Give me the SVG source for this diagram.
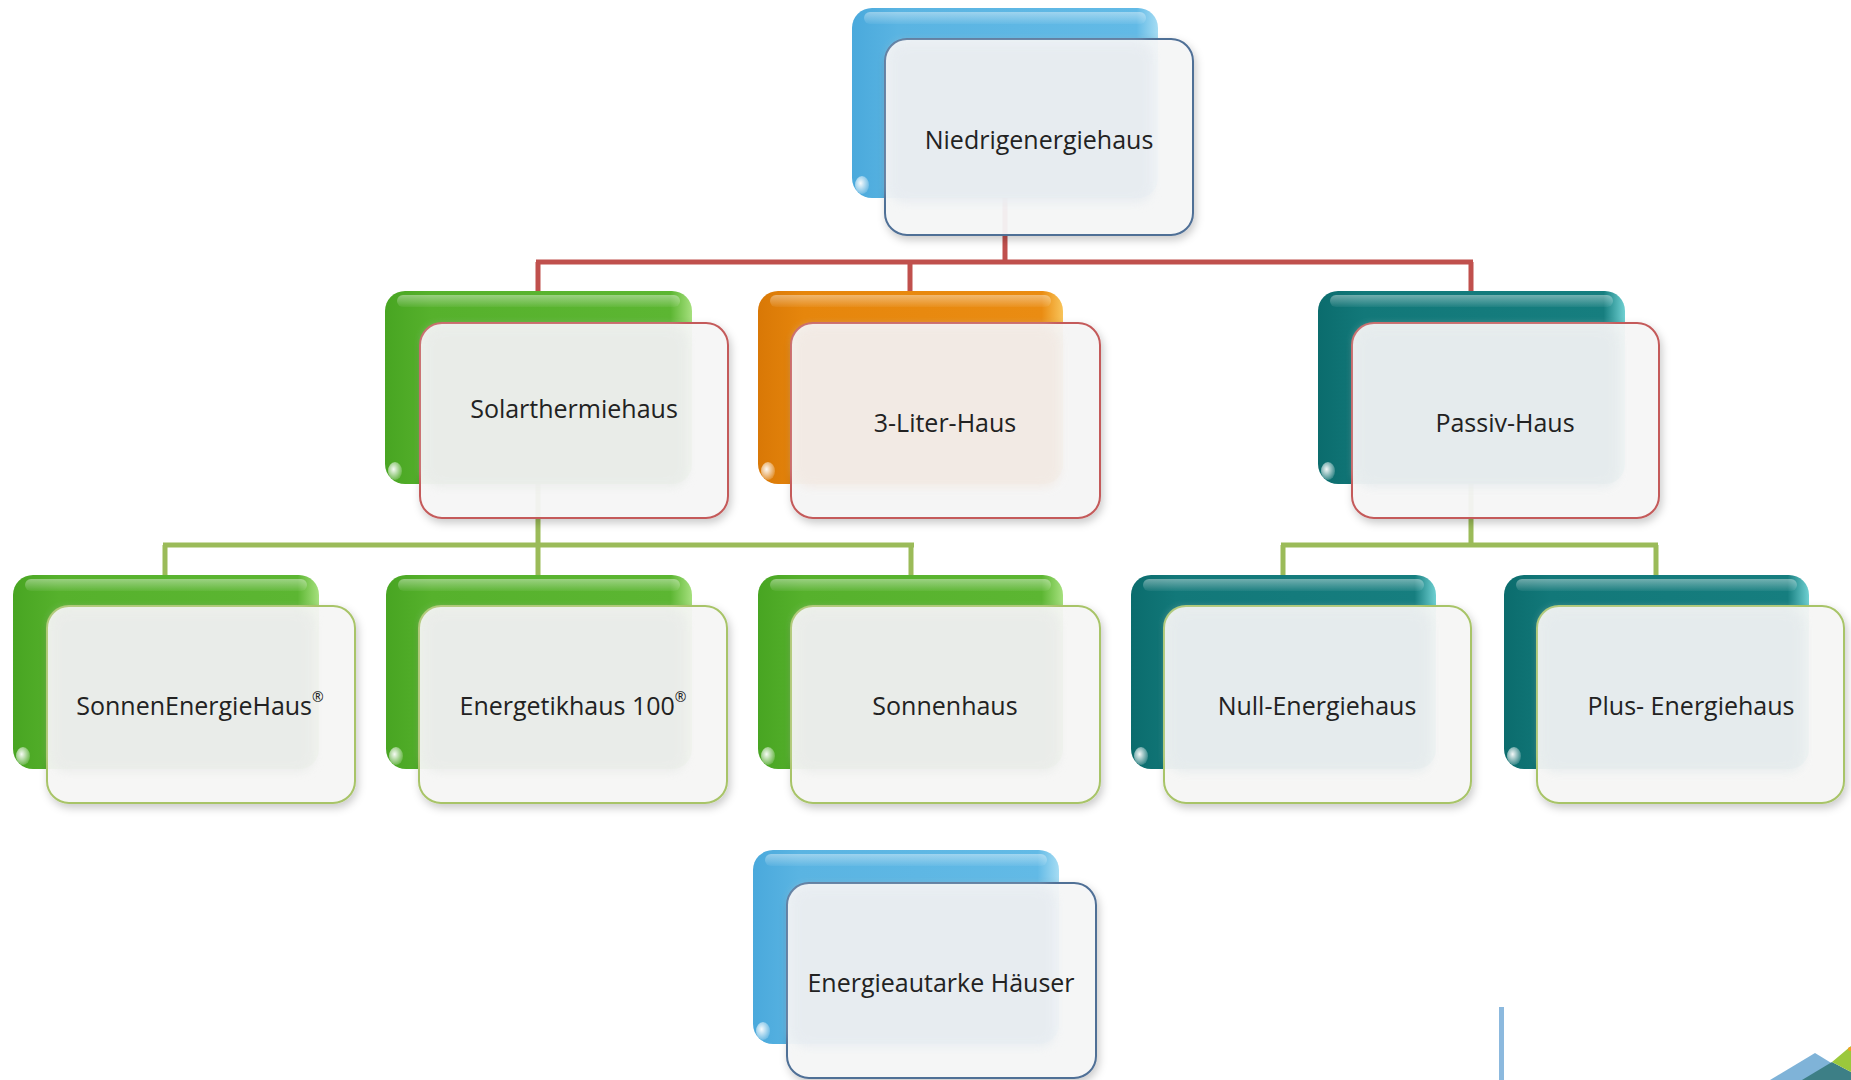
<svg xmlns="http://www.w3.org/2000/svg" width="1851" height="1080" viewBox="0 0 1851 1080">
<defs>
<linearGradient id="gBlue" x1="0" y1="0" x2="1" y2="0"><stop offset="0" stop-color="#4aa9dc"/><stop offset="0.15" stop-color="#5ab4e2"/><stop offset="0.93" stop-color="#62bae6"/><stop offset="1" stop-color="#a6dcf3"/></linearGradient>
<linearGradient id="gGreen" x1="0" y1="0" x2="1" y2="0"><stop offset="0" stop-color="#48a522"/><stop offset="0.15" stop-color="#56b12c"/><stop offset="0.93" stop-color="#5cb632"/><stop offset="1" stop-color="#a6e07e"/></linearGradient>
<linearGradient id="gOrange" x1="0" y1="0" x2="1" y2="0"><stop offset="0" stop-color="#d97806"/><stop offset="0.15" stop-color="#e6860c"/><stop offset="0.93" stop-color="#ea8c12"/><stop offset="1" stop-color="#f8c45a"/></linearGradient>
<linearGradient id="gTeal" x1="0" y1="0" x2="1" y2="0"><stop offset="0" stop-color="#0b6c6d"/><stop offset="0.15" stop-color="#127879"/><stop offset="0.93" stop-color="#167e7f"/><stop offset="1" stop-color="#6fd0d2"/></linearGradient>
<linearGradient id="gHi" x1="0" y1="0" x2="0" y2="1"><stop offset="0" stop-color="#ffffff" stop-opacity="0.4"/><stop offset="1" stop-color="#ffffff" stop-opacity="0.05"/></linearGradient>
<radialGradient id="gDot" cx="0.4" cy="0.4" r="0.6"><stop offset="0" stop-color="#ffffff" stop-opacity="0.95"/><stop offset="1" stop-color="#ffffff" stop-opacity="0.2"/></radialGradient>
<filter id="sh" x="-10%" y="-10%" width="125%" height="130%"><feDropShadow dx="2" dy="4" stdDeviation="4" flood-color="#000" flood-opacity="0.22"/></filter>
<filter id="bl" x="-10%" y="-10%" width="120%" height="120%"><feGaussianBlur stdDeviation="5"/></filter>
</defs>
<style>
.back{stroke:none}
.hi{fill:url(#gHi)}
.dot{fill:url(#gDot)}
.front{stroke-width:2;filter:url(#sh)}
.fb{fill:#f5f7f8;stroke:#4f6f96}
.fr{fill:#f6f6f6;stroke:#c45a5a}
.fg{fill:#f6f7f5;stroke:#a8c468}
.in{filter:url(#bl)}
.lbl{font-family:"Open Sans","Noto Sans","DejaVu Sans",sans-serif;font-size:25px;fill:#222;text-anchor:middle;dominant-baseline:central}
.red{stroke:#c0504d;stroke-width:5;fill:none}
.grn{stroke:#9bbb59;stroke-width:5;fill:none}
</style>

<g id="connectors">
<path class="red" d="M1005 198 V262 M536 262 H1473 M538 262 V292 M910 262 V292 M1471 262 V292"/>
<path class="grn" d="M538 484 V545 M163 545 H914 M165 545 V576 M538 545 V576 M911 545 V576 M1471 484 V545 M1281 545 H1658 M1283 545 V576 M1656 545 V576"/>
</g>

<g id="n-niedrig">
<rect class="back" x="852" y="8" width="306" height="190" rx="20" fill="url(#gBlue)"/>
<rect class="hi" x="864" y="12" width="282" height="12" rx="6"/>
<ellipse class="dot" cx="862" cy="185" rx="7" ry="9"/>
<rect class="front fb" x="885" y="39" width="308" height="196" rx="22" fill-opacity="0.94"/>
<rect class="in" x="889" y="43" width="264" height="160" rx="16" fill="#e6ebf0" opacity="0.8"/>
<text class="lbl" x="1039" y="139">Niedrigenergiehaus</text>
</g>

<g id="n-solar">
<rect class="back" x="385" y="291" width="307" height="193" rx="20" fill="url(#gGreen)"/>
<rect class="hi" x="397" y="295" width="283" height="12" rx="6"/>
<ellipse class="dot" cx="395" cy="471" rx="7" ry="9"/>
<rect class="front fr" x="420" y="323" width="308" height="195" rx="22" fill-opacity="0.94"/>
<rect class="in" x="424" y="327" width="264" height="160" rx="16" fill="#e8ebe8" opacity="0.8"/>
<text class="lbl" x="574" y="408">Solarthermiehaus</text>
</g>

<g id="n-3liter">
<rect class="back" x="758" y="291" width="305" height="193" rx="20" fill="url(#gOrange)"/>
<rect class="hi" x="770" y="295" width="281" height="12" rx="6"/>
<ellipse class="dot" cx="768" cy="471" rx="7" ry="9"/>
<rect class="front fr" x="791" y="323" width="309" height="195" rx="22" fill="#f8f4f2" fill-opacity="0.95"/>
<rect class="in" x="795" y="327" width="265" height="160" rx="16" fill="#f2e9e3" opacity="0.85"/>
<text class="lbl" x="945" y="422">3-Liter-Haus</text>
</g>

<g id="n-passiv">
<rect class="back" x="1318" y="291" width="307" height="193" rx="20" fill="url(#gTeal)"/>
<rect class="hi" x="1330" y="295" width="283" height="12" rx="6"/>
<ellipse class="dot" cx="1328" cy="471" rx="7" ry="9"/>
<rect class="front fr" x="1352" y="323" width="307" height="195" rx="22" fill-opacity="0.94"/>
<rect class="in" x="1356" y="327" width="263" height="160" rx="16" fill="#e5ebed" opacity="0.85"/>
<text class="lbl" x="1505" y="422">Passiv-Haus</text>
</g>

<g id="n-sonnenenergie">
<rect class="back" x="13" y="575" width="306" height="194" rx="20" fill="url(#gGreen)"/>
<rect class="hi" x="25" y="579" width="282" height="12" rx="6"/>
<ellipse class="dot" cx="23" cy="756" rx="7" ry="9"/>
<rect class="front fg" x="47" y="606" width="308" height="197" rx="22" fill-opacity="0.94"/>
<rect class="in" x="51" y="610" width="264" height="162" rx="16" fill="#e9ebe9" opacity="0.8"/>
<text class="lbl" x="200" y="705">SonnenEnergieHaus<tspan font-size="14" baseline-shift="60%">®</tspan></text>
</g>

<g id="n-energetik">
<rect class="back" x="386" y="575" width="306" height="194" rx="20" fill="url(#gGreen)"/>
<rect class="hi" x="398" y="579" width="282" height="12" rx="6"/>
<ellipse class="dot" cx="396" cy="756" rx="7" ry="9"/>
<rect class="front fg" x="419" y="606" width="308" height="197" rx="22" fill-opacity="0.94"/>
<rect class="in" x="423" y="610" width="264" height="162" rx="16" fill="#e9ebe9" opacity="0.8"/>
<text class="lbl" x="573" y="705">Energetikhaus 100<tspan font-size="14" baseline-shift="60%">®</tspan></text>
</g>

<g id="n-sonnenhaus">
<rect class="back" x="758" y="575" width="305" height="194" rx="20" fill="url(#gGreen)"/>
<rect class="hi" x="770" y="579" width="281" height="12" rx="6"/>
<ellipse class="dot" cx="768" cy="756" rx="7" ry="9"/>
<rect class="front fg" x="791" y="606" width="309" height="197" rx="22" fill-opacity="0.94"/>
<rect class="in" x="795" y="610" width="265" height="162" rx="16" fill="#e9ebe9" opacity="0.8"/>
<text class="lbl" x="945" y="705">Sonnenhaus</text>
</g>

<g id="n-null">
<rect class="back" x="1131" y="575" width="305" height="194" rx="20" fill="url(#gTeal)"/>
<rect class="hi" x="1143" y="579" width="281" height="12" rx="6"/>
<ellipse class="dot" cx="1141" cy="756" rx="7" ry="9"/>
<rect class="front fg" x="1164" y="606" width="307" height="197" rx="22" fill-opacity="0.94"/>
<rect class="in" x="1168" y="610" width="263" height="162" rx="16" fill="#e5ebed" opacity="0.85"/>
<text class="lbl" x="1317" y="705">Null-Energiehaus</text>
</g>

<g id="n-plus">
<rect class="back" x="1504" y="575" width="305" height="194" rx="20" fill="url(#gTeal)"/>
<rect class="hi" x="1516" y="579" width="281" height="12" rx="6"/>
<ellipse class="dot" cx="1514" cy="756" rx="7" ry="9"/>
<rect class="front fg" x="1537" y="606" width="307" height="197" rx="22" fill-opacity="0.94"/>
<rect class="in" x="1541" y="610" width="263" height="162" rx="16" fill="#e5ebed" opacity="0.85"/>
<text class="lbl" x="1691" y="705">Plus- Energiehaus</text>
</g>

<g id="n-autark">
<rect class="back" x="753" y="850" width="306" height="194" rx="20" fill="url(#gBlue)"/>
<rect class="hi" x="765" y="854" width="282" height="12" rx="6"/>
<ellipse class="dot" cx="763" cy="1031" rx="7" ry="9"/>
<rect class="front fb" x="787" y="883" width="309" height="195" rx="22" fill-opacity="0.94"/>
<rect class="in" x="791" y="887" width="265" height="160" rx="16" fill="#e6ebf0" opacity="0.8"/>
<text class="lbl" x="941" y="982">Energieautarke Häuser</text>
</g>

<g id="corner">
<rect x="1499" y="1007" width="5" height="73" fill="#8cb9de"/>
<polygon points="1770,1080 1815,1053 1851,1075 1851,1080" fill="#7fb3d8"/>
<polygon points="1802,1080 1832,1062 1851,1072 1851,1080" fill="#3d7f86"/>
<polygon points="1832,1062 1851,1046 1851,1072" fill="#9bc83c"/>
<circle cx="1850" cy="1049" r="2" fill="#f0a020"/>
</g>
</svg>
